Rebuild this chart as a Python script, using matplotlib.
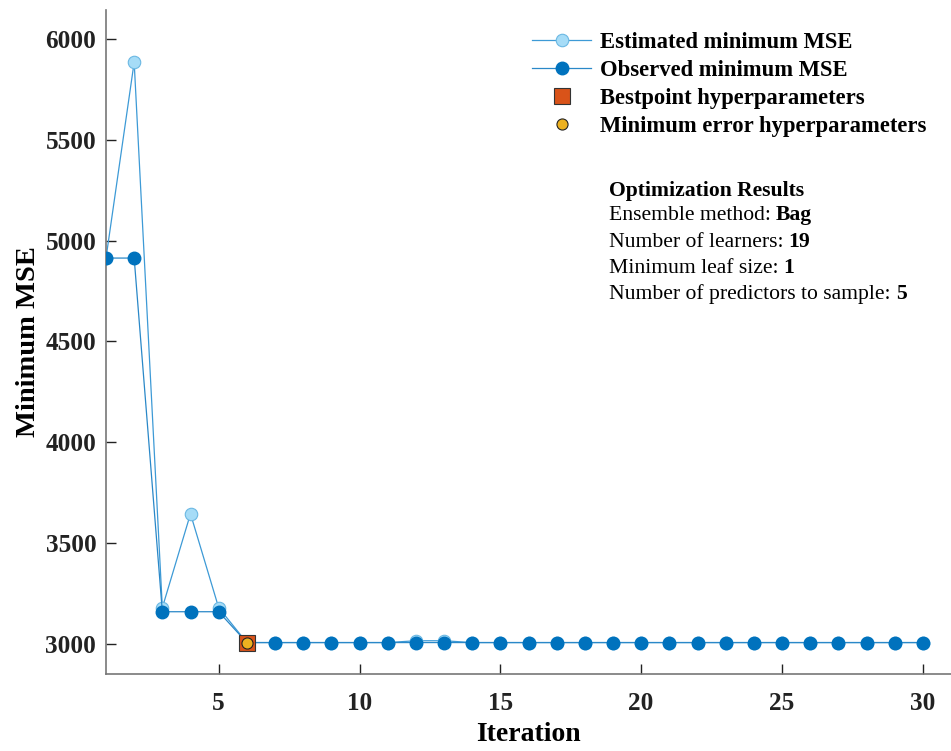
import matplotlib
matplotlib.use("Agg")
import matplotlib.pyplot as plt

plt.rcParams["font.family"] = ["Liberation Serif", "DejaVu Serif"]

iterations = list(range(1, 31))
estimated_mse = [4914, 5886, 3179, 3645, 3179, 3006, 3006, 3006, 3006, 3006,
                 3006, 3015, 3015, 3006, 3006, 3006, 3006, 3006, 3006, 3006,
                 3006, 3006, 3006, 3006, 3006, 3006, 3006, 3006, 3006, 3006]
observed_mse = [4914, 4914, 3159, 3159, 3159, 3006, 3006, 3006, 3006, 3006,
                3006, 3006, 3006, 3006, 3006, 3006, 3006, 3006, 3006, 3006,
                3006, 3006, 3006, 3006, 3006, 3006, 3006, 3006, 3006, 3006]
best_iter = 6
best_mse = 3006

result_lines = [
    ("Ensemble method: ", "Bag"),
    ("Number of learners: ", "19"),
    ("Minimum leaf size: ", "1"),
    ("Number of predictors to sample: ", "5"),
]

fig = plt.figure(figsize=(9.51, 7.51), dpi=100)
ax = fig.add_axes([106 / 951, 1 - 674 / 751, 845 / 951, 664 / 751])

ax.plot(iterations, estimated_mse, "-o", color="#3d9ad6", linewidth=0.9,
        markersize=9, markerfacecolor="#a6dcf7", markeredgecolor="#6bb8e3",
        markeredgewidth=0.8, label="Estimated minimum MSE", zorder=2)
ax.plot(iterations, observed_mse, "-o", color="#2a88c8", linewidth=0.9,
        markersize=9, markerfacecolor="#0072bd", markeredgecolor="#0072bd",
        label="Observed minimum MSE", zorder=3)
ax.plot([best_iter], [best_mse], "s", markersize=11, markerfacecolor="#d95319",
        markeredgecolor="#333333", markeredgewidth=0.8, linestyle="none",
        label="Bestpoint hyperparameters", zorder=4)
ax.plot([best_iter], [best_mse], "o", markersize=8, markerfacecolor="#edb120",
        markeredgecolor="#222222", markeredgewidth=0.8, linestyle="none",
        label="Minimum error hyperparameters", zorder=5)

ax.set_xlim(1, 31)
ax.set_ylim(2850, 6145)
ax.set_xticks([5, 10, 15, 20, 25, 30])
ax.set_yticks([3000, 3500, 4000, 4500, 5000, 5500, 6000])
ax.tick_params(direction="in", length=7, width=1, colors="#222222",
               labelsize=18.2)
ax.tick_params(axis="y", pad=7)
ax.tick_params(axis="x", pad=13)
for lbl in ax.get_xticklabels() + ax.get_yticklabels():
    lbl.set_fontweight("bold")

for side in ("top", "right"):
    ax.spines[side].set_visible(False)
for side in ("left", "bottom"):
    ax.spines[side].set_color("#777777")
    ax.spines[side].set_linewidth(1.2)

ax.set_xlabel("Iteration", fontsize=20, fontweight="bold", labelpad=5)
ax.set_ylabel("Minimum MSE", fontsize=20.5, fontweight="bold", labelpad=3)

leg = ax.legend(loc="upper right", bbox_to_anchor=(0.995, 0.997), frameon=False,
                prop={"weight": "bold", "size": 16.3}, handlelength=2.6,
                labelspacing=0.3, handletextpad=0.4)

ax.text(0.595, 0.728, "Optimization Results", transform=ax.transAxes,
        fontsize=15.6, fontweight="bold", va="center")
for i, (label, value) in enumerate(result_lines):
    t = ax.text(0.595, 0.690 - i * 0.0395, label, transform=ax.transAxes,
                fontsize=15.6, va="center")
    ax.annotate(value, xy=(1, 0), xycoords=t, va="bottom", fontsize=15.6,
                fontweight="bold")

fig.savefig("out.png", dpi=100)
